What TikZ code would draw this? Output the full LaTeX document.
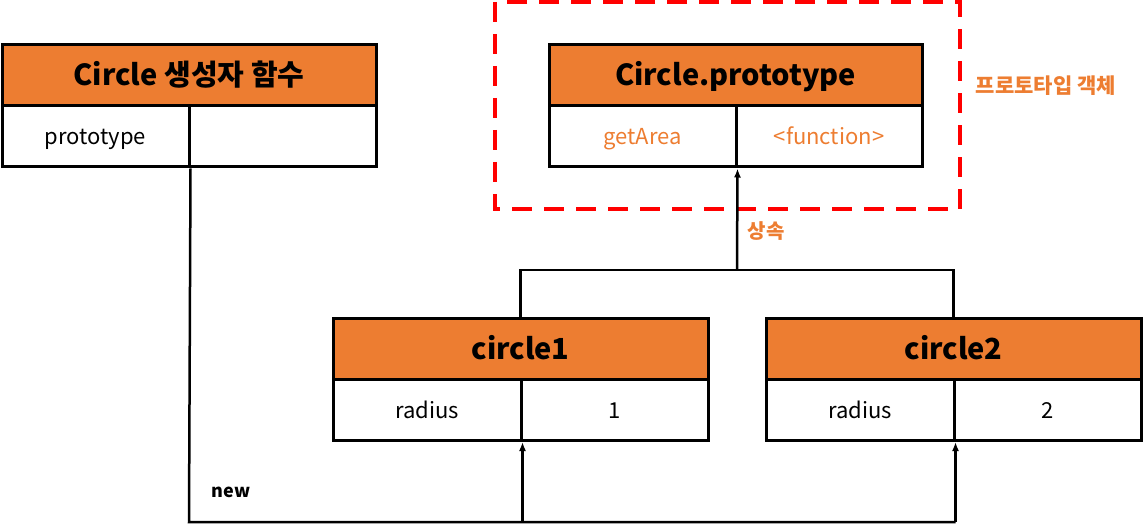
\documentclass[tikz,border=0pt]{standalone}
\usepackage{fontspec}
\setmainfont{Noto Sans CJK KR}
\usepackage{xcolor}
\usetikzlibrary{arrows.meta}
\definecolor{boxorange}{HTML}{ED7D31}
\tikzset{
  hdr/.style={draw, line width=3pt, fill=boxorange, minimum height=61pt, inner sep=0pt, text height=25pt, text depth=4pt, font=\fontsize{29}{32}\selectfont\bfseries},
  cell/.style={draw, line width=3pt, minimum height=61pt, inner sep=0pt, text height=20pt, text depth=4pt, font=\fontsize{22}{25}\selectfont},
  link/.style={line width=2.5pt},
  tip/.style={-{Latex[length=9pt,width=7pt]}}
}
\begin{document}
\begin{tikzpicture}[x=1pt,y=-1pt]
        \useasboundingbox (0,0) rectangle (1143,526);
        \draw[red, line width=4pt, dash pattern=on 20pt off 12pt] (495,2) rectangle (960,209);
        \node[hdr, minimum width=374pt](ctor) at (189,75.5) {Circle 생성자 함수};
        \node[cell, minimum width=187pt](ctorkey) at (95.5,136.5) {prototype};
        \node[cell, minimum width=187pt](ctorval) at (282.5,136.5) {};
        \node[hdr, minimum width=373pt](proto) at (735.5,75.5) {Circle.prototype};
        \node[cell, minimum width=187pt, text=boxorange](protokey) at (642.5,136.5) {getArea};
        \node[cell, minimum width=186pt, text=boxorange](protoval) at (829,136.5) {<function>};
        \node[text=boxorange, font=\fontsize{21}{24}\selectfont\bfseries](protolabel) at (1046,86) {프로토타입 객체};
        \node[hdr, minimum width=375pt](c1) at (520.5,349) {circle1};
        \node[cell, minimum width=188pt](c1key) at (427,410) {radius};
        \node[cell, minimum width=187pt](c1val) at (614.5,410) {1};
        \node[hdr, minimum width=375pt](c2) at (953.5,349) {circle2};
        \node[cell, minimum width=188pt](c2key) at (860,410) {radius};
        \node[cell, minimum width=187pt](c2val) at (1047.5,410) {2};
        \coordinate(split) at (737,270);
        \coordinate(nbot) at (189,522);
        \draw[link](c1.north) -- (c1.north |- split) -- (c2.north |- split) -- (c2.north);
        \draw[link, tip](split) -- (protokey.south east);
        \node[text=boxorange, font=\fontsize{20}{23}\selectfont\bfseries](inherit) at (766,231) {상속};
        \draw[link](ctorkey.south east) -- (nbot) -- (c2key.south east |- nbot);
        \draw[link, tip](c2key.south east |- nbot) -- (c2key.south east);
        \draw[link, tip](c1key.south east |- nbot) -- (c1key.south east);
        \node[font=\fontsize{18}{21}\selectfont\bfseries](newlabel) at (231,492) {new};
\end{tikzpicture}
\end{document}
